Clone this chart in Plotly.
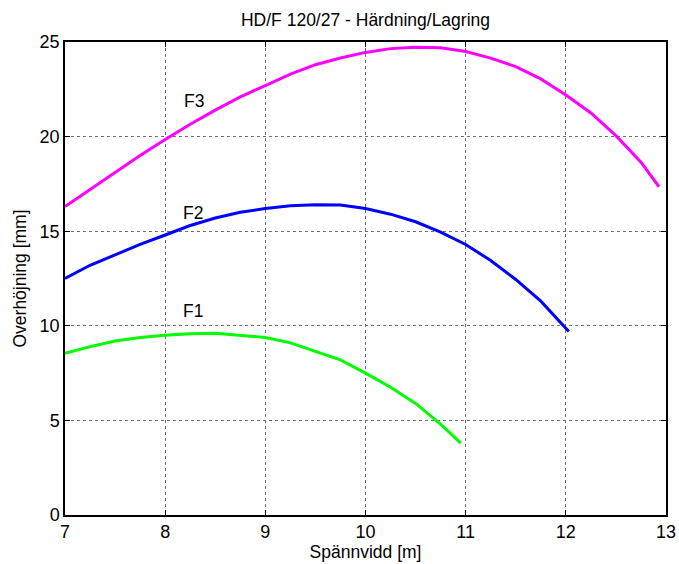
import plotly.graph_objects as go

# Span (m) and camber (mm) for the three load cases
span_f1 = [7.0, 7.25, 7.5, 7.75, 8.0, 8.25, 8.5, 8.75, 9.0, 9.25, 9.5, 9.75, 10.0, 10.25, 10.5, 10.75, 10.95]
camber_f1 = [8.55, 8.9, 9.2, 9.38, 9.5, 9.58, 9.6, 9.5, 9.38, 9.1, 8.65, 8.2, 7.5, 6.75, 5.9, 4.8, 3.8]

span_f2 = [7.0, 7.25, 7.5, 7.75, 8.0, 8.25, 8.5, 8.75, 9.0, 9.25, 9.5, 9.75, 10.0, 10.25, 10.5,
           10.75, 11.0, 11.25, 11.5, 11.75, 12.03]
camber_f2 = [12.5, 13.2, 13.75, 14.3, 14.8, 15.3, 15.7, 16.0, 16.2, 16.35, 16.4, 16.38, 16.2, 15.9, 15.5,
             14.95, 14.3, 13.45, 12.45, 11.3, 9.7]

span_f3 = [7.0, 7.25, 7.5, 7.75, 8.0, 8.25, 8.5, 8.75, 9.0, 9.25, 9.5, 9.75, 10.0, 10.25, 10.5,
           10.75, 11.0, 11.25, 11.5, 11.75, 12.0, 12.25, 12.5, 12.75, 12.93]
camber_f3 = [16.3, 17.2, 18.1, 19.0, 19.85, 20.65, 21.4, 22.1, 22.7, 23.3, 23.8, 24.15, 24.45, 24.65, 24.72,
             24.7, 24.5, 24.15, 23.7, 23.05, 22.2, 21.25, 20.05, 18.65, 17.35]

case_labels = ["F1", "F2", "F3"]
label_x = [8.28, 8.28, 8.29]
label_y = [10.8, 15.95, 21.9]

x_ticks = [7, 8, 9, 10, 11, 12, 13]
y_ticks = [0, 5, 10, 15, 20, 25]

FONT = "Liberation Sans, Arial, sans-serif"
TXT = 17.5

fig = go.Figure()
for xs, ys, color in [(span_f1, camber_f1, "#00FF00"),
                      (span_f2, camber_f2, "#0000FF"),
                      (span_f3, camber_f3, "#FF00FF")]:
    fig.add_trace(go.Scatter(x=xs, y=ys, mode="lines",
                             line=dict(color=color, width=3), showlegend=False))

for name, lx, ly in zip(case_labels, label_x, label_y):
    fig.add_annotation(x=lx, y=ly, text=name, showarrow=False,
                       xanchor="center", yanchor="middle",
                       font=dict(family=FONT, size=TXT, color="black"))

axis_common = dict(
    showline=True, linecolor="black", linewidth=1.5, mirror="ticks",
    ticks="inside", ticklen=5, tickcolor="black", tickwidth=1,
    showgrid=True, gridcolor="#6f6f6f", gridwidth=1, griddash="dot",
    zeroline=False, automargin=False,
    tickfont=dict(family=FONT, size=18, color="black"),
)

fig.update_xaxes(range=[7, 13], tickvals=x_ticks, ticktext=[str(v) for v in x_ticks],
                 title=dict(text="Spännvidd [m]", standoff=4,
                            font=dict(family=FONT, size=TXT, color="black")),
                 **axis_common)
fig.update_yaxes(range=[0, 25], tickvals=y_ticks, ticktext=[str(v) for v in y_ticks],
                 title=dict(text="Overhöjning [mm]", standoff=8,
                            font=dict(family=FONT, size=TXT, color="black")),
                 **axis_common)

fig.update_layout(
    width=679, height=564,
    margin=dict(l=65, r=13, t=42, b=49),
    paper_bgcolor="white", plot_bgcolor="white",
    title=dict(text="HD/F 120/27 - Härdning/Lagring", x=0.5, xref="paper",
               y=1 - 20 / 564, yref="container", yanchor="middle",
               font=dict(family=FONT, size=TXT, color="black")),
)

fig.write_html("out.html")
